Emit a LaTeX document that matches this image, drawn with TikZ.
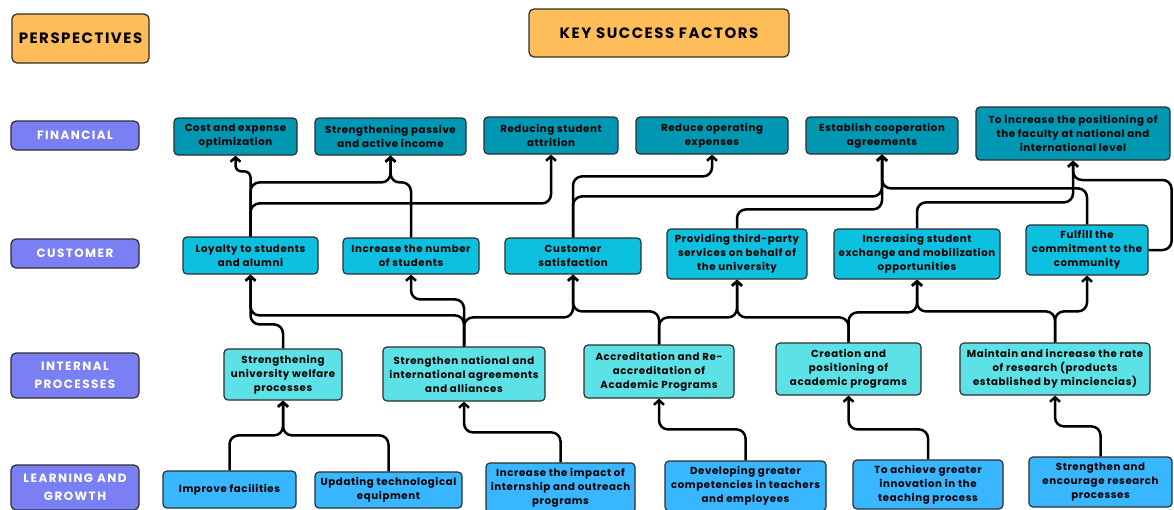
\documentclass[tikz,border=0pt]{standalone}
\usepackage{fontspec}
\setmainfont{Poppins}
\usetikzlibrary{arrows.meta}

\definecolor{headorange}{HTML}{FFBD59}
\definecolor{viewpurple}{HTML}{7B7FF4}
\definecolor{finteal}{HTML}{0097B2}
\definecolor{custcyan}{HTML}{0CC0DF}
\definecolor{intcyan}{HTML}{5CE1E6}
\definecolor{learnblue}{HTML}{38B6FF}
\definecolor{boxedge}{HTML}{2E2E2E}

\tikzset{
  factor/.style={draw=boxedge, line width=1.2pt, rounded corners=4pt, inner sep=0pt,
    align=center, font=\fontsize{10.2}{14}\selectfont\bfseries\addfontfeature{LetterSpace=6}},
  fin/.style={factor, fill=finteal},
  cust/.style={factor, fill=custcyan},
  proc/.style={factor, fill=intcyan},
  learn/.style={factor, fill=learnblue},
  header/.style={draw=boxedge, line width=1.2pt, rounded corners=5pt, fill=headorange,
    inner sep=0pt, font=\fontsize{15}{16}\selectfont\bfseries\addfontfeature{LetterSpace=10}},
  view/.style={draw=boxedge, line width=1.2pt, rounded corners=5pt, fill=viewpurple,
    text=white, inner sep=0pt, align=center, minimum width=128pt,
    font=\fontsize{12}{18}\selectfont\bfseries\addfontfeature{LetterSpace=12}},
  link/.style={draw, line width=2.5pt, rounded corners=9pt,
    -{Straight Barb[length=4.5pt,width=10pt]}}
}

\begin{document}
\begin{tikzpicture}[x=1pt, y=-1pt]
    \useasboundingbox (0,0) rectangle (1174,509);
    \clip (0,0) rectangle (1174,509);
    \fill[white] (0,0) rectangle (1174,509);

    % Headers
    \node[header, minimum width=137pt, minimum height=49pt] (persp) at (80.5,38.5) {PERSPECTIVES};
    \node[header, minimum width=260pt, minimum height=48pt] (ksf) at (659,33) {KEY SUCCESS FACTORS};

    % Perspectives
    \node[view, minimum height=29pt] (vfin) at (75,135.5) {FINANCIAL};
    \node[view, minimum height=29pt] (vcust) at (75,253.5) {CUSTOMER};
    \node[view, minimum height=45pt] (vproc) at (75,375.5) {INTERNAL\\PROCESSES};
    \node[view, minimum height=45pt] (vlearn) at (75,487.5) {LEARNING AND\\GROWTH};

    % Financial
    \node[fin, minimum width=123pt, minimum height=37pt] (F1) at (235.5,136.5) {Cost and expense\\optimization};
    \node[fin, minimum width=151pt, minimum height=37pt] (F2) at (390.5,136.5) {Strengthening passive\\and active income};
    \node[fin, minimum width=134pt, minimum height=37pt] (F3) at (551,135.5) {Reducing student\\attrition};
    \node[fin, minimum width=152pt, minimum height=37pt] (F4) at (712,135.5) {Reduce operating\\expenses};
    \node[fin, minimum width=152pt, minimum height=37pt] (F5) at (882,135.5) {Establish cooperation\\agreements};
    \node[fin, minimum width=194pt, minimum height=53pt] (F6) at (1073,133.5) {To increase the positioning of\\the faculty at national and\\international level};

    % Customer
    \node[cust, minimum width=135pt, minimum height=37pt] (C1) at (250.5,255.5) {Loyalty to students\\and alumni};
    \node[cust, minimum width=136pt, minimum height=36pt] (C2) at (411,256) {Increase the number\\of students};
    \node[cust, minimum width=136pt, minimum height=36pt] (C3) at (573,256) {Customer\\satisfaction};
    \node[cust, minimum width=140pt, minimum height=50pt] (C4) at (737,254) {Providing third-party\\services on behalf of\\the university};
    \node[cust, minimum width=166pt, minimum height=50pt] (C5) at (917,254) {Increasing student\\exchange and mobilization\\opportunities};
    \node[cust, minimum width=122pt, minimum height=50pt] (C6) at (1087,250) {Fulfill the\\commitment to the\\community};

    % Internal processes
    \node[proc, minimum width=118pt, minimum height=51pt] (I1) at (283,374.5) {Strengthening\\university welfare\\processes};
    \node[proc, minimum width=162pt, minimum height=54pt] (I2) at (464,374) {Strengthen national and\\international agreements\\and alliances};
    \node[proc, minimum width=150pt, minimum height=53pt] (I3) at (659,371.5) {Accreditation and Re-\\accreditation of\\Academic Programs};
    \node[proc, minimum width=145pt, minimum height=52pt] (I4) at (848.5,369) {Creation and\\positioning of\\academic programs};
    \node[proc, minimum width=190pt, minimum height=52pt] (I5) at (1055,369) {Maintain and increase the rate\\of research (products\\established by minciencias)};

    % Learning and growth
    \node[learn, minimum width=133pt, minimum height=37pt] (L1) at (229.5,489.5) {Improve facilities};
    \node[learn, minimum width=147pt, minimum height=36pt] (L2) at (388.5,490) {Updating technological\\equipment};
    \node[learn, minimum width=149pt, minimum height=50pt] (L3) at (560.5,488) {Increase the impact of\\internship and outreach\\programs};
    \node[learn, minimum width=161pt, minimum height=50pt] (L4) at (745.5,486) {Developing greater\\competencies in teachers\\and employees};
    \node[learn, minimum width=150pt, minimum height=49pt] (L5) at (928,484.5) {To achieve greater\\innovation in the\\teaching process};
    \node[learn, minimum width=143pt, minimum height=50pt] (L6) at (1100.5,482) {Strengthen and\\encourage research\\processes};

    % Customer -> Financial
    \draw[link, rounded corners=6pt] (C1.north) -- ++(0,-65) -| (F1.south);
    \draw[link] (C1.north) -- ++(0,-54) -| (F2.south);
    \draw[link] (C2.north) -- ++(0,-55) -| (F2.south);
    \draw[link] (C1.north) -- ++(0,-33) -| (F3.south);
    \draw[link] (C3.north) -- ++(0,-61) -| (F4.south);
    \draw[link] (C3.north) -- ++(0,-41) -| (F5.south);
    \draw[link] (C4.north) -- ++(0,-19) -| (F5.south);
    \draw[link] (C6.north) -- ++(0,-36) -| (F5.south);
    \draw[link] (C5.north) -- ++(0,-26) -| (F6.south);
    \draw[link] (C6.east) -- ++(23,0) -- ++(0,-70) -| (F6.south);

    % Internal processes -> Customer
    \draw[link] (I1.north) -- ++(0,-24) -| (C1.south);
    \draw[link] (I2.north) -- ++(0,-31) -| (C1.south);
    \draw[link] (I2.north) -- ++(0,-47) -| (C2.south);
    \draw[link] (I2.north) -- ++(0,-29) -| (C3.south);
    \draw[link] (I3.north) -- ++(0,-33) -| (C3.south);
    \draw[link] (I3.north) -- ++(0,-27) -| (C4.south);
    \draw[link] (I4.north) -- ++(0,-25) -| (C4.south);
    \draw[link] (I4.north) -- ++(0,-30) -| (C5.south);
    \draw[link] (I5.north) -- ++(0,-31) -| (C5.south);
    \draw[link] (I5.north) -- ++(0,-31) -| (C6.south);

    % Learning and growth -> Internal processes
    \draw[link] (L1.north) -- ++(0,-35) -| (I1.south);
    \draw[link] (L2.north) -- ++(0,-36) -| (I1.south);
    \draw[link] (L3.north) -- ++(0,-30) -| (I2.south);
    \draw[link] (L4.north) -- ++(0,-31) -| (I3.south);
    \draw[link] (L5.north) -- ++(0,-30) -| (I4.south);
    \draw[link] (L6.north) -- ++(0,-30) -| (I5.south);
\end{tikzpicture}
\end{document}
